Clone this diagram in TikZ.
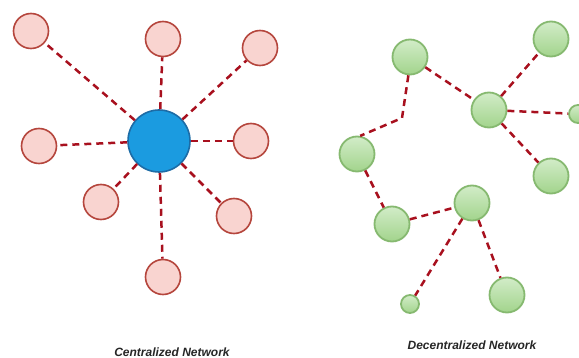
\documentclass[tikz,border=0pt]{standalone}
\usepackage{fontspec}
\setmainfont{Liberation Sans}
\definecolor{pinkfill}{HTML}{F9D4D0}
\definecolor{pinkdraw}{HTML}{B5463D}
\definecolor{bluefill}{HTML}{1B9BE0}
\definecolor{bluedraw}{HTML}{1D6CA6}
\definecolor{greentop}{HTML}{D2ECC8}
\definecolor{greenbot}{HTML}{A2D48C}
\definecolor{greendraw}{HTML}{86B970}
\definecolor{linkred}{HTML}{A8101E}
\tikzset{
  pinknode/.style={circle,draw=pinkdraw,fill=pinkfill,line width=1.6pt,minimum size=35pt,inner sep=0pt},
  hubnode/.style={circle,draw=bluedraw,fill=bluefill,line width=1.6pt,minimum size=62pt,inner sep=0pt},
  greennode/.style={circle,draw=greendraw,top color=greentop,bottom color=greenbot,line width=1.8pt,minimum size=35pt,inner sep=0pt},
  smallgreen/.style={greennode,minimum size=18pt},
  link/.style={draw=linkred,line width=2.5pt,dash pattern=on 7pt off 5pt},
  caption/.style={font=\fontsize{12}{14}\selectfont\bfseries\itshape,text=black!85,inner sep=0pt}
}
\begin{document}
\begin{tikzpicture}[x=1pt,y=-1pt]
\useasboundingbox (0,0) rectangle (579,358);
% centralized
\node[hubnode] (hub) at (159,141) {};
\node[pinknode] (p1) at (31,31) {};
\node[pinknode] (p2) at (163,39) {};
\node[pinknode] (p3) at (260,48) {};
\node[pinknode] (p4) at (39,146) {};
\node[pinknode] (p5) at (251,141) {};
\node[pinknode] (p6) at (101,202) {};
\node[pinknode] (p7) at (234,216) {};
\node[pinknode] (p8) at (163,277) {};
\foreach \n in {p1,p2,p3,p4,p5,p6,p7,p8}{\draw[link] (hub) -- (\n);}
\node[caption] (capA) at (172,352) {Centralized Network};
% decentralized
\node[greennode] (A) at (410,57) {};
\node[greennode] (B) at (551,39) {};
\node[greennode] (C) at (489,110) {};
\node[smallgreen] (D) at (578,114) {};
\node[greennode] (E) at (551,176) {};
\node[greennode] (F) at (357,154) {};
\node[greennode] (G) at (392,224) {};
\node[greennode] (H) at (472,203) {};
\node[smallgreen] (I) at (410,304) {};
\node[greennode] (J) at (507,295) {};
\coordinate (bend) at (402,118);
\draw[link] (A) -- (C);
\draw[link] (C) -- (B);
\draw[link] (C) -- (D);
\draw[link] (C) -- (E);
\draw[link] (A.265) -- (bend) -- (F.80);
\draw[link] (F) -- (G);
\draw[link] (G) -- (H);
\draw[link] (H) -- (I);
\draw[link] (H) -- (J);
\node[caption] (capB) at (472,345) {Decentralized Network};
\end{tikzpicture}
\end{document}
